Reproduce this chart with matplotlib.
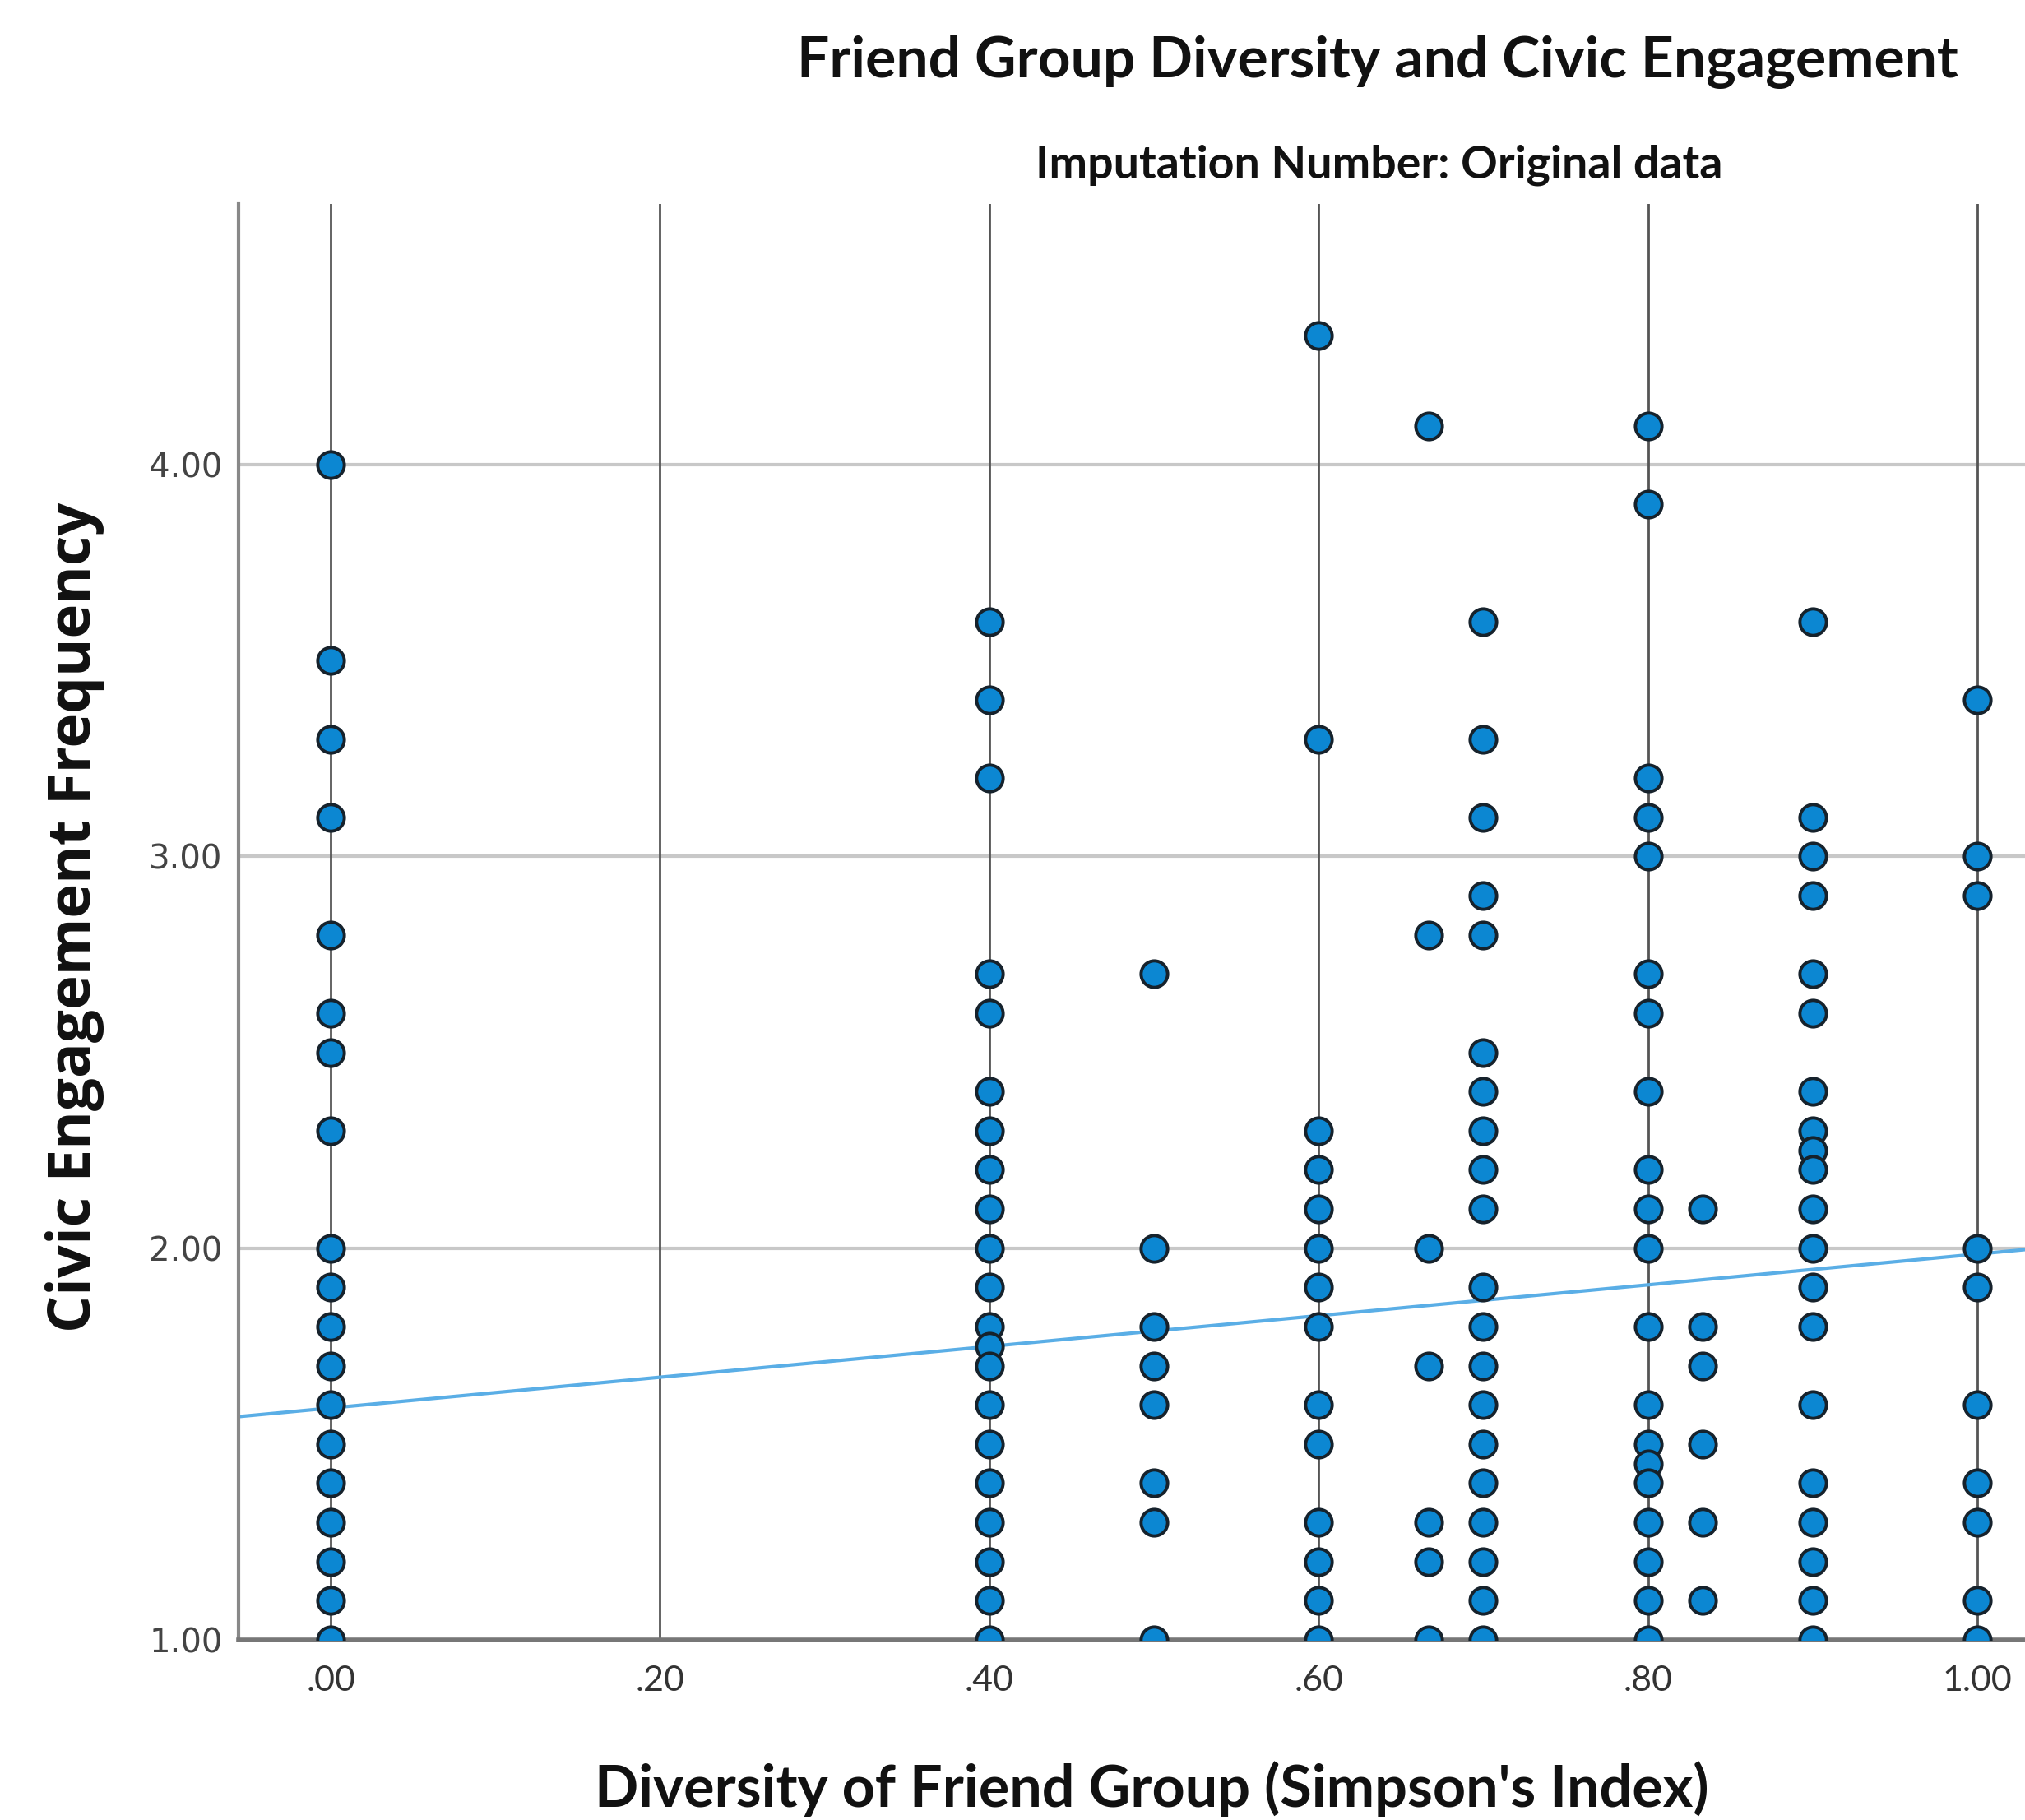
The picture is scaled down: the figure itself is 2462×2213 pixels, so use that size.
import matplotlib
matplotlib.use('Agg')
import matplotlib.pyplot as plt

# columns of points: diversity value -> engagement values
div_0 = [4.0, 3.5, 3.3, 3.1, 2.8, 2.6, 2.5, 2.3, 2.0, 1.9, 1.8, 1.7, 1.6, 1.5, 1.4, 1.3, 1.2, 1.1, 1.0]
div_40 = [3.6, 3.4, 3.2, 2.7, 2.6, 2.4, 2.3, 2.2, 2.1, 2.0, 1.9, 1.8, 1.75, 1.7, 1.6, 1.5, 1.4, 1.3, 1.2, 1.1, 1.0]
div_50 = [2.7, 2.0, 1.8, 1.7, 1.6, 1.4, 1.3, 1.0]
div_60 = [4.33, 3.3, 2.3, 2.2, 2.1, 2.0, 1.9, 1.8, 1.6, 1.5, 1.3, 1.2, 1.1, 1.0]
div_67 = [4.1, 2.8, 2.0, 1.7, 1.3, 1.2, 1.0]
div_70 = [3.6, 3.3, 3.1, 2.9, 2.8, 2.5, 2.4, 2.3, 2.2, 2.1, 1.9, 1.8, 1.7, 1.6, 1.5, 1.4, 1.3, 1.2, 1.1, 1.0]
div_80 = [4.1, 3.9, 3.2, 3.1, 3.0, 2.7, 2.6, 2.4, 2.2, 2.1, 2.0, 1.8, 1.6, 1.5, 1.45, 1.4, 1.3, 1.2, 1.1, 1.0]
div_83 = [2.1, 1.8, 1.7, 1.5, 1.3, 1.1]
div_90 = [3.6, 3.1, 3.0, 2.9, 2.7, 2.6, 2.4, 2.3, 2.25, 2.2, 2.1, 2.0, 1.9, 1.8, 1.6, 1.4, 1.3, 1.2, 1.1, 1.0]
div_100 = [3.4, 3.0, 2.9, 2.0, 1.9, 1.6, 1.4, 1.3, 1.1, 1.0]

columns = {0.0: div_0, 0.4: div_40, 0.5: div_50, 0.6: div_60, 2 / 3: div_67,
           0.7: div_70, 0.8: div_80, 5 / 6: div_83, 0.9: div_90, 1.0: div_100}

# fit line
fit_intercept = 1.592
fit_slope = 0.393

x_ticks = [0.0, 0.2, 0.4, 0.6, 0.8, 1.0]
x_tick_labels = ['.00', '.20', '.40', '.60', '.80', '1.00']
y_ticks = [1.0, 2.0, 3.0, 4.0]
y_tick_labels = ['1.00', '2.00', '3.00', '4.00']

fig = plt.figure(figsize=(24.62, 22.13), dpi=100)
ax = fig.add_axes([290 / 2462, 1 - 1994 / 2213, 1 - 290 / 2462, (1994 - 248) / 2213])

xlo, xhi = -0.056, 1.029
ax.set_xlim(xlo, xhi)
ax.set_ylim(1.0, 4.666)

# grid: light horizontals, dark verticals
for y in y_ticks[1:]:
    ax.axhline(y, color='#c8c8c8', lw=3, zorder=1)
for x in x_ticks:
    ax.axvline(x, color='#555555', lw=2, zorder=1)

# regression line
ax.plot([xlo, xhi], [fit_intercept + fit_slope * xlo, fit_intercept + fit_slope * xhi],
        color='#5aaee6', lw=3, zorder=2)

xs, ys = [], []
for xv, vals in columns.items():
    xs += [xv] * len(vals)
    ys += vals
ax.scatter(xs, ys, s=540, facecolor='#0c87d2', edgecolor='#16222c', linewidth=2.8, zorder=3)

ax.set_xticks(x_ticks)
ax.set_xticklabels(x_tick_labels, family='Lato', fontsize=31, color='#333333')
ax.set_yticks(y_ticks)
ax.set_yticklabels(y_tick_labels, family='DejaVu Sans', fontsize=29, color='#444444')
ax.tick_params(axis='both', length=0)
ax.tick_params(axis='x', pad=22)
ax.tick_params(axis='y', pad=14)

for s in ['top', 'right']:
    ax.spines[s].set_visible(False)
ax.spines['left'].set_color('#888888')
ax.spines['left'].set_linewidth(3)
ax.spines['bottom'].set_color('#777777')
ax.spines['bottom'].set_linewidth(4)

fig.text(1675 / 2462, 1 - 75 / 2213, 'Friend Group Diversity and Civic Engagement',
         ha='center', va='center', family='Lato', fontweight='bold', fontsize=50, color='#111111')
fig.text(1677 / 2462, 1 - 201 / 2213, 'Imputation Number: Original data',
         ha='center', va='center', family='Lato', fontweight='bold', fontsize=40, color='#111111')
fig.text(1400 / 2462, 1 - 2175 / 2213, "Diversity of Friend Group (Simpson's Index)",
         ha='center', va='center', family='Lato', fontweight='bold', fontsize=50.5, color='#111111')
fig.text(91 / 2462, 1 - 1115 / 2213, 'Civic Engagement Frequency', rotation=90,
         ha='center', va='center', family='Open Sans', fontweight='bold', fontsize=51, color='#111111')

fig.savefig('out.png', dpi=100)
